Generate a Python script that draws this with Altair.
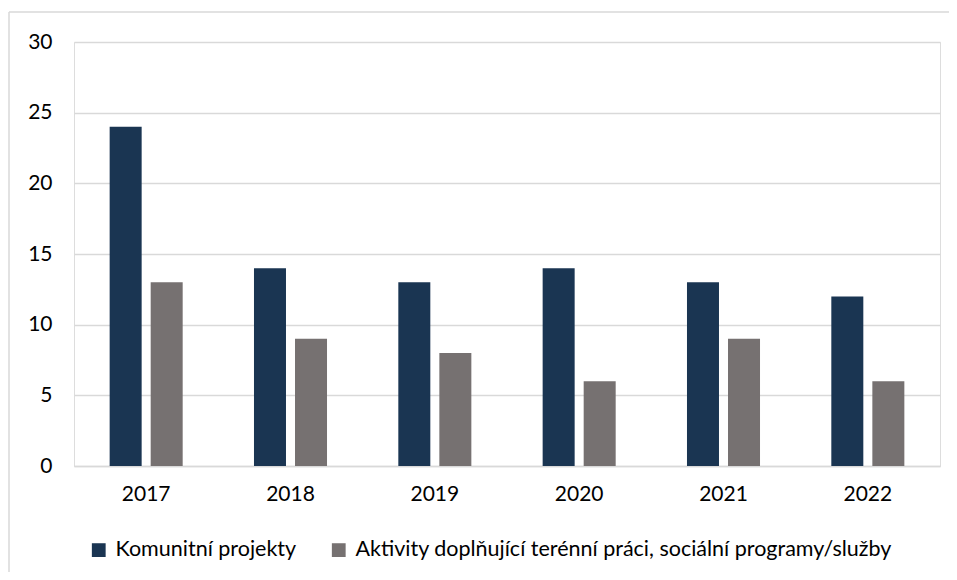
import altair as alt
import pandas as pd

years = ["2017", "2018", "2019", "2020", "2021", "2022"]
series = ["Komunitní projekty", "Aktivity doplňující terénní práci, sociální programy/služby"]
komunitni = [24, 14, 13, 14, 13, 12]
aktivity = [13, 9, 8, 6, 9, 6]
colors = ["#1A3552", "#767171"]

rows = []
for i, y in enumerate(years):
    rows.append({"rok": y, "serie": series[0], "hodnota": komunitni[i]})
    rows.append({"rok": y, "serie": series[1], "hodnota": aktivity[i]})
df = pd.DataFrame(rows)

FONT = "Lato"

bars = alt.Chart(df).mark_bar().encode(
    x=alt.X("rok:N", sort=years, title=None,
            scale=alt.Scale(paddingInner=0.494, paddingOuter=0.247),
            axis=alt.Axis(labelAngle=0, ticks=False, labelPadding=17, domainColor="#d9d9d9",
                          domainWidth=1.5, labelFontSize=21, labelColor="#000000", labelFont=FONT)),
    xOffset=alt.XOffset("serie:N", sort=series, scale=alt.Scale(paddingInner=0.22, paddingOuter=0)),
    y=alt.Y("hodnota:Q", title=None,
            scale=alt.Scale(domain=[0, 30], nice=False),
            axis=alt.Axis(values=[0, 5, 10, 15, 20, 25, 30], ticks=False, domain=False, labelPadding=22,
                          gridColor="#d9d9d9", gridWidth=1.5, labelFontSize=21,
                          labelColor="#000000", labelFont=FONT)),
    color=alt.Color("serie:N", sort=series,
                    scale=alt.Scale(domain=series, range=colors),
                    legend=alt.Legend(title=None, orient="none", direction="horizontal",
                                      legendX=14, legendY=497, symbolType="square", symbolSize=190,
                                      symbolStrokeWidth=0, labelFontSize=21.5, labelFont=FONT,
                                      labelColor="#000000", columnPadding=31, labelOffset=6,
                                      labelLimit=800)),
)

frame_src = pd.DataFrame({"a": [0]})
frame_top = alt.Chart(frame_src).mark_rule(
    color="#d9d9d9", strokeWidth=1.5, clip=False
).encode(x=alt.value(-65), x2=alt.value(1000), y=alt.value(-30))
frame_left = alt.Chart(frame_src).mark_rule(
    color="#d9d9d9", strokeWidth=1.5, clip=False
).encode(x=alt.value(-65), y=alt.value(-30), y2=alt.value(700))

chart = alt.layer(frame_top, frame_left, bars).properties(
    width=866, height=424,
    autosize=alt.AutoSizeParams(type="none"),
    padding={"left": 66, "top": 34, "right": 9, "bottom": 106},
).configure_view(stroke=None).configure(background="white")

chart.save("out.html", embed_options={"renderer": "svg", "actions": False})
